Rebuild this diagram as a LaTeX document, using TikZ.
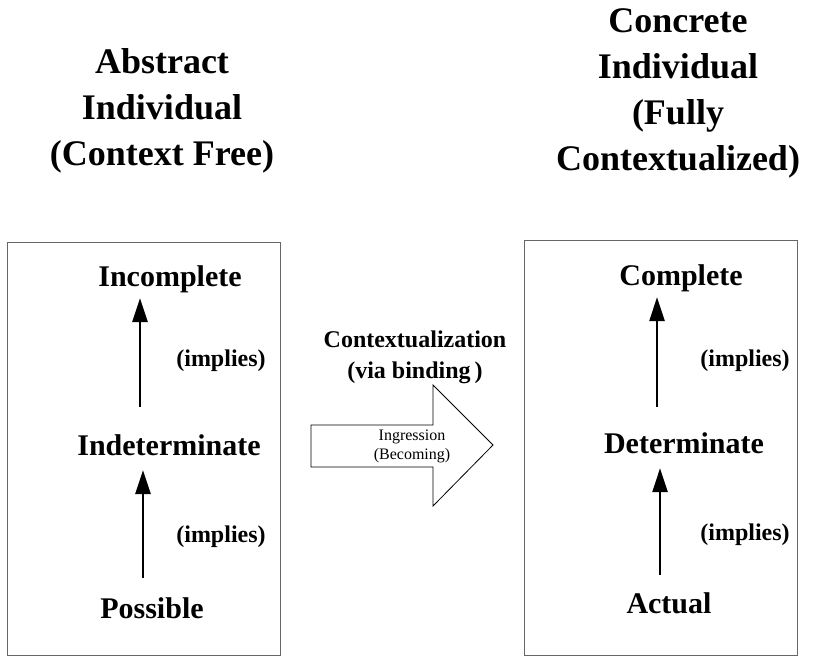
\documentclass[tikz,border=0pt]{standalone}
\usepackage{fontspec}
\setmainfont{Liberation Serif}
\usetikzlibrary{arrows.meta}

\tikzset{
  title/.style={font=\fontsize{36}{46}\selectfont\bfseries, align=center, anchor=base},
  term/.style={font=\fontsize{30}{36}\selectfont\bfseries, anchor=base,
    inner sep=0pt, text height=21pt, text depth=7pt},
  implies/.style={font=\fontsize{24}{29}\selectfont\bfseries, anchor=base},
  implarrow/.style={line width=2.8pt, -{Triangle[width=15pt,length=24pt]}},
  frame/.style={draw=black!60, line width=0.9pt},
}

\begin{document}
\begin{tikzpicture}[x=1pt,y=-1pt]
\useasboundingbox (0,0) rectangle (814,665);

% headings (base = last line)
\node[title] (abstract) at (162,165) {Abstract\\Individual\\(Context Free)};
\node[title] (concrete) at (678,170) {Concrete\\Individual\\(Fully\\Contextualized)};

% the two frames
\draw[frame] (7,242) rectangle (280,655);
\draw[frame] (524,240) rectangle (797,655);

% left column
\node[term] (incomplete) at (170,286) {Incomplete};
\node[term] (indet) at (169,455) {Indeterminate};
\node[term] (possible) at (152,618) {Possible};
% right column
\node[term] (complete) at (681,285) {Complete};
\node[term] (det) at (684,453) {Determinate};
\node[term] (actual) at (669,613) {Actual};

\foreach \x/\y in {221/366, 221/542, 745/366, 745/540}
  \node[implies] at (\x,\y) {(implies)};

% arrow columns
\coordinate (la) at (140,0);
\coordinate (lb) at (143,0);
\coordinate (ra) at (657,0);
\coordinate (rb) at (660,0);
\foreach \lo/\hi/\c/\s/\t in {indet/incomplete/la/27/5, possible/indet/lb/19/8,
                               det/complete/ra/25/5, actual/det/rb/17/8}
  \draw[implarrow, shorten <=\s pt, shorten >=\t pt] (\lo.north -| \c) -- (\hi.south -| \c);

% block arrow in the middle
\draw[line width=0.8pt, line join=miter]
  (311,425) -- (433,425) -- (433,385) -- (493,445) -- (433,506) -- (433,467) -- (311,467) -- cycle;
\node[font=\fontsize{16}{19}\selectfont, align=center] (ingress) at (412,446) {Ingression\\(Becoming)};
\node[font=\fontsize{24}{31}\selectfont\bfseries, align=center, anchor=base] (context)
  at (415,378) {Contextualization\\(via binding\,)};
\end{tikzpicture}
\end{document}
